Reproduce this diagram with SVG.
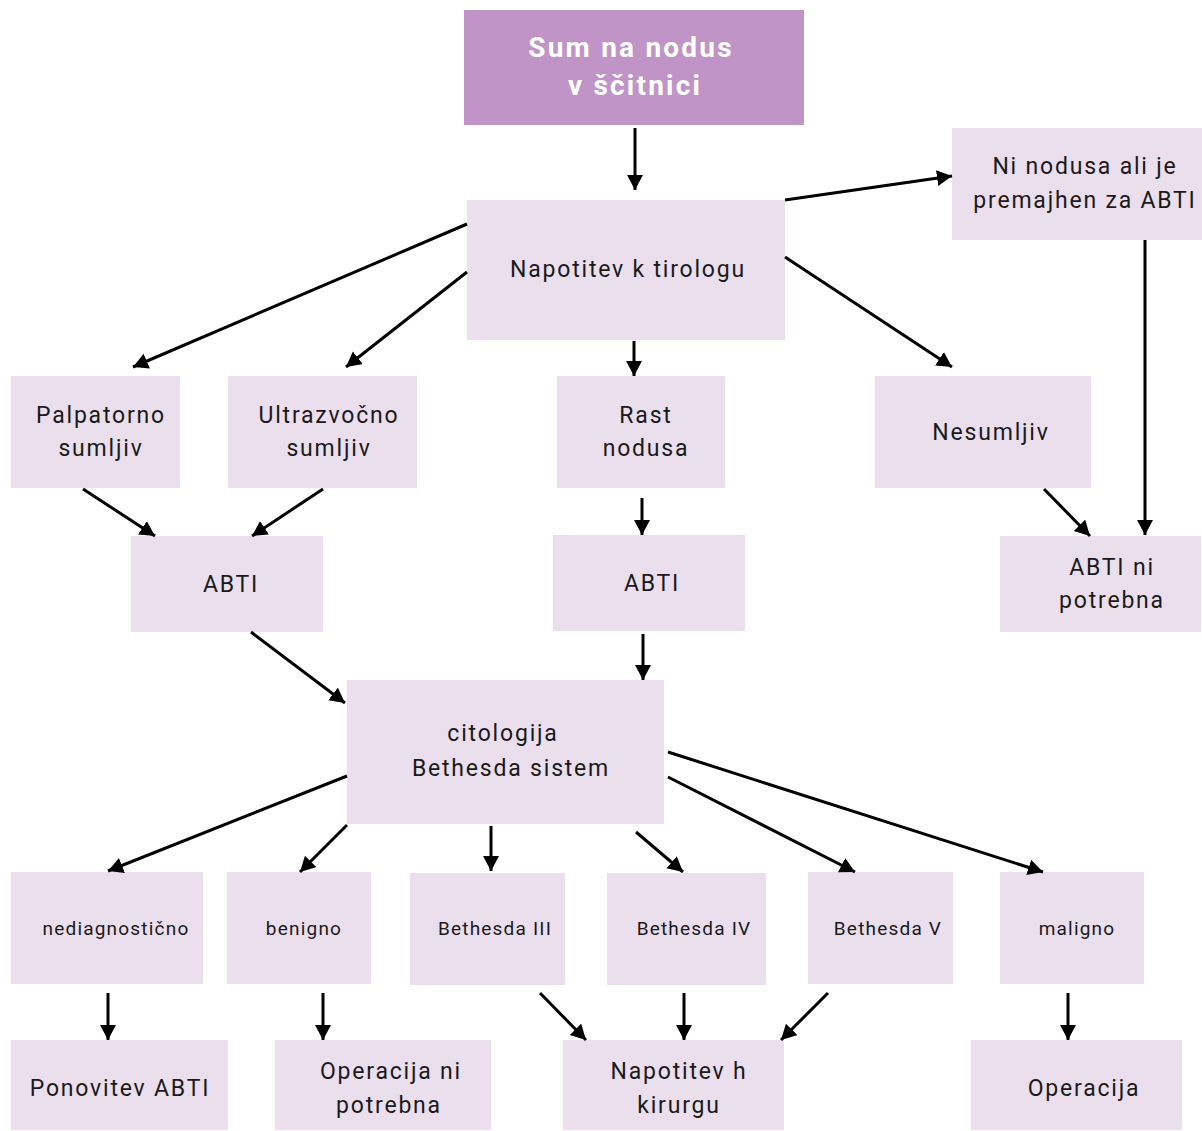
<svg xmlns="http://www.w3.org/2000/svg" width="1202" height="1131" viewBox="0 0 1202 1131">
<style>
.n{fill:#ebdfee}
.t{font-family:Roboto,"DejaVu Sans",sans-serif;font-size:23px;fill:#1a1a1a;text-anchor:middle;letter-spacing:1.8px}
.s{font-size:19px;letter-spacing:1.2px}
.h{font-family:Roboto,"DejaVu Sans",sans-serif;font-size:28px;font-weight:bold;fill:#ffffff;text-anchor:middle;letter-spacing:2.2px}
.c line{stroke:#000;stroke-width:3;marker-end:url(#a)}
</style>
<defs>
<marker id="a" markerUnits="userSpaceOnUse" markerWidth="17" markerHeight="17" refX="15" refY="8" orient="auto">
<path d="M0,0 L15,8 L0,16 Z" fill="#000"/>
</marker>
</defs>
<rect width="1202" height="1131" fill="#fff"/>
<g id="n-top"><rect x="464" y="10" width="340" height="115" fill="#c194c7"/><text class="h" x="631" y="57">Sum na nodus</text><text class="h" x="635" y="95">v ščitnici</text></g>
<g id="n-napotitev"><rect class="n" x="467" y="200" width="318" height="140"/><text class="t" x="628" y="277">Napotitev k tirologu</text></g>
<g id="n-ninodusa"><rect class="n" x="952" y="128" width="250" height="112"/><text class="t" x="1085" y="174">Ni nodusa ali je</text><text class="t" x="1085" y="208">premajhen za ABTI</text></g>
<g id="n-palp"><rect class="n" x="11" y="376" width="169" height="112"/><text class="t" x="101" y="423">Palpatorno</text><text class="t" x="101" y="456">sumljiv</text></g>
<g id="n-ultra"><rect class="n" x="228" y="376" width="189" height="112"/><text class="t" x="329" y="423">Ultrazvočno</text><text class="t" x="329" y="456">sumljiv</text></g>
<g id="n-rast"><rect class="n" x="557" y="376" width="168" height="112"/><text class="t" x="646" y="423">Rast</text><text class="t" x="646" y="456">nodusa</text></g>
<g id="n-nesum"><rect class="n" x="875" y="376" width="216" height="112"/><text class="t" x="991" y="440">Nesumljiv</text></g>
<g id="n-abti1"><rect class="n" x="131" y="536" width="192" height="96"/><text class="t" x="231" y="592">ABTI</text></g>
<g id="n-abti2"><rect class="n" x="553" y="535" width="192" height="96"/><text class="t" x="652" y="591">ABTI</text></g>
<g id="n-abtini"><rect class="n" x="1000" y="536" width="201" height="96"/><text class="t" x="1112" y="575">ABTI ni</text><text class="t" x="1112" y="608">potrebna</text></g>
<g id="n-cito"><rect class="n" x="347" y="680" width="317" height="144"/><text class="t" x="503" y="741">citologija</text><text class="t" x="511" y="776">Bethesda sistem</text></g>
<g id="n-nediag"><rect class="n" x="11" y="872" width="192" height="112"/><text class="t s" x="116" y="935">nediagnostično</text></g>
<g id="n-benigno"><rect class="n" x="227" y="872" width="144" height="112"/><text class="t s" x="304" y="935">benigno</text></g>
<g id="n-b3"><rect class="n" x="410" y="873" width="155" height="112"/><text class="t s" x="495" y="935">Bethesda III</text></g>
<g id="n-b4"><rect class="n" x="607" y="873" width="159" height="112"/><text class="t s" x="694" y="935">Bethesda IV</text></g>
<g id="n-b5"><rect class="n" x="808" y="872" width="145" height="112"/><text class="t s" x="888" y="935">Bethesda V</text></g>
<g id="n-maligno"><rect class="n" x="1000" y="872" width="144" height="112"/><text class="t s" x="1077" y="935">maligno</text></g>
<g id="n-ponov"><rect class="n" x="11" y="1040" width="217" height="90"/><text class="t" x="120" y="1096">Ponovitev ABTI</text></g>
<g id="n-opni"><rect class="n" x="275" y="1040" width="216" height="90"/><text class="t" x="391" y="1079">Operacija ni</text><text class="t" x="389" y="1113">potrebna</text></g>
<g id="n-kirurg"><rect class="n" x="563" y="1040" width="221" height="90"/><text class="t" x="679" y="1079">Napotitev h</text><text class="t" x="679" y="1113">kirurgu</text></g>
<g id="n-oper"><rect class="n" x="971" y="1040" width="211" height="90"/><text class="t" x="1084" y="1096">Operacija</text></g>
<g id="connectors" class="c">
<line x1="635" y1="128" x2="635" y2="190"/>
<line x1="785" y1="200" x2="952" y2="176"/>
<line x1="467" y1="224" x2="133" y2="367"/>
<line x1="467" y1="272" x2="346" y2="367"/>
<line x1="634" y1="341" x2="634" y2="376"/>
<line x1="785" y1="257" x2="952" y2="367"/>
<line x1="1145" y1="240" x2="1145" y2="535"/>
<line x1="83" y1="489" x2="155" y2="536"/>
<line x1="323" y1="489" x2="252" y2="536"/>
<line x1="642" y1="498" x2="642" y2="535"/>
<line x1="1044" y1="489" x2="1090" y2="536"/>
<line x1="251" y1="632" x2="345" y2="703"/>
<line x1="643" y1="634" x2="643" y2="680"/>
<line x1="347" y1="776" x2="108" y2="871"/>
<line x1="347" y1="825" x2="300" y2="872"/>
<line x1="491" y1="826" x2="491" y2="871"/>
<line x1="636" y1="832" x2="683" y2="872"/>
<line x1="668" y1="777" x2="855" y2="872"/>
<line x1="668" y1="752" x2="1043" y2="872"/>
<line x1="108" y1="993" x2="108" y2="1040"/>
<line x1="323" y1="993" x2="323" y2="1040"/>
<line x1="540" y1="993" x2="586" y2="1040"/>
<line x1="684" y1="993" x2="684" y2="1040"/>
<line x1="828" y1="993" x2="781" y2="1040"/>
<line x1="1068" y1="993" x2="1068" y2="1040"/>
</g>
</svg>
